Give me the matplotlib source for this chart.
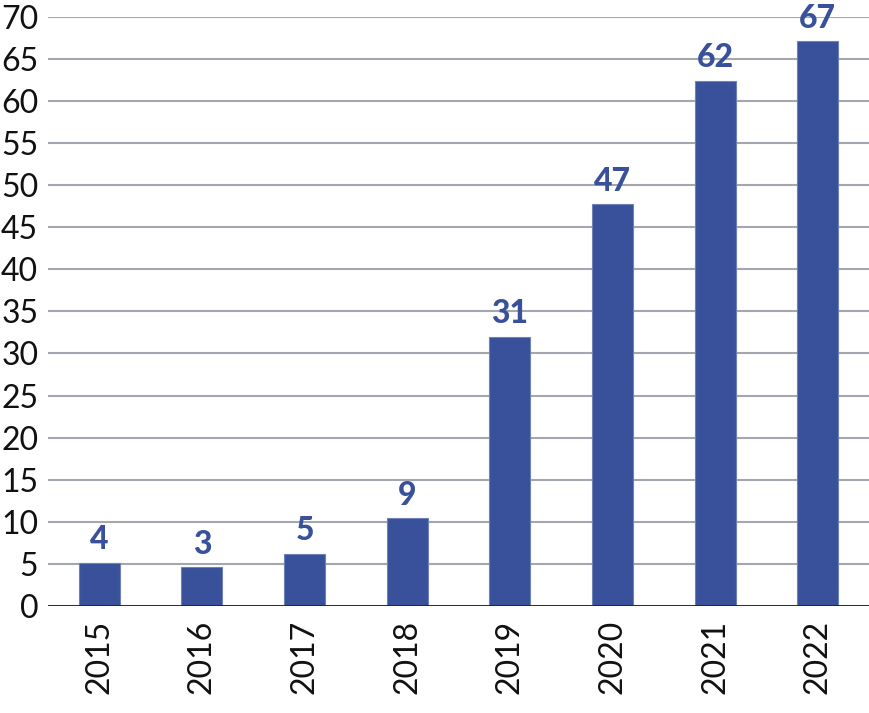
import numpy as np
from matplotlib import pyplot as plt

years = ["2015", "2016", "2017", "2018", "2019", "2020", "2021", "2022"]
bar_heights = [5.15, 4.6, 6.2, 10.4, 32.0, 47.7, 62.4, 67.1]
value_labels = ["4", "3", "5", "9", "31", "47", "62", "67"]
yticks = list(range(0, 71, 5))

bar_color = "#38519a"
grid_color = "#a3a7ae"

plt.rcParams['font.family'] = ['Lato', 'DejaVu Sans']

fig = plt.figure(figsize=(8.69, 7.13), dpi=100)
ax = fig.add_axes([48 / 869, 107 / 713, 1 - 48 / 869, (606 - 16.7) / 713])

x = np.arange(len(years))
ax.bar(x, bar_heights, width=0.4, color=bar_color, edgecolor="#6f82b8",
       linewidth=0.8, zorder=3)

for xi, h, lab in zip(x, bar_heights, value_labels):
    ax.annotate(lab, (xi, h), xytext=(0, 6), textcoords="offset points",
                ha="center", va="bottom", fontsize=23, fontweight="black",
                color=bar_color)

ax.set_xlim(-0.5, len(years) - 0.5)
ax.set_ylim(0, 70)
ax.set_yticks(yticks)
ax.yaxis.grid(True, color=grid_color, linewidth=1.5, zorder=0)
ax.axhline(0, color="#222222", linewidth=2, zorder=4)
ax.set_xticks(x)
ax.set_xticklabels(years, rotation=90)
ax.tick_params(axis="both", length=0, labelsize=23, colors="#111111")
ax.tick_params(axis="y", pad=7)
ax.tick_params(axis="x", pad=10)
for s in ax.spines.values():
    s.set_visible(False)

fig.savefig("out.png", dpi=100)
